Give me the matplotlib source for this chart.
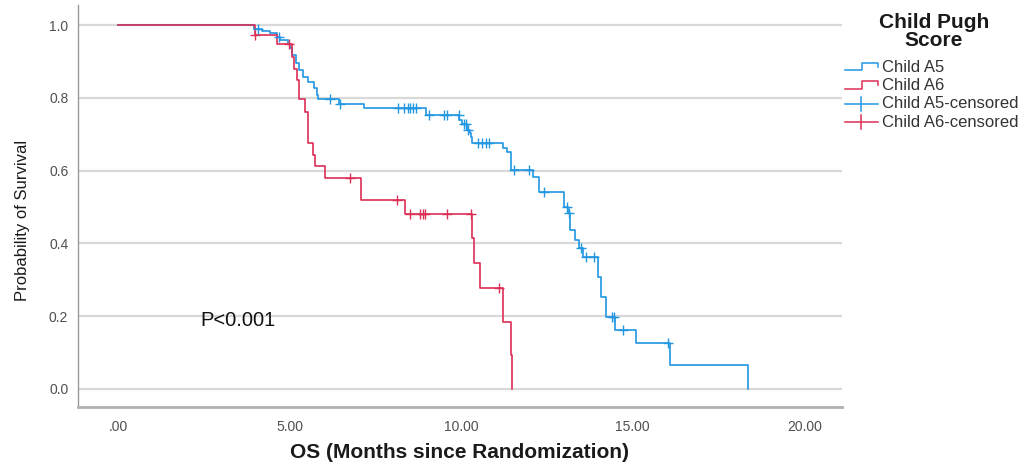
import matplotlib
matplotlib.use("Agg")
import matplotlib.pyplot as plt
from matplotlib.lines import Line2D

plt.rcParams['font.family'] = ['Liberation Sans', 'DejaVu Sans']

# ---- data ----
a5_times = [0.0, 3.97, 4.20, 4.44, 4.64, 4.73, 4.94, 5.02, 5.08, 5.17, 5.26, 5.40, 5.52,
            5.70, 5.81, 5.84, 6.43, 7.16, 8.97, 9.93, 10.02, 10.16, 10.25, 10.28, 10.31,
            11.21, 11.33, 11.45, 12.09, 12.27, 13.00, 13.11, 13.17, 13.32, 13.43, 13.55,
            13.99, 14.08, 14.22, 14.49, 15.10, 16.09, 18.37]
a5_surv = [1.0, 0.990, 0.984, 0.978, 0.967, 0.959, 0.948, 0.937, 0.918, 0.896, 0.876, 0.857, 0.843,
           0.827, 0.808, 0.797, 0.783, 0.772, 0.752, 0.739, 0.728, 0.712, 0.703, 0.692, 0.676,
           0.662, 0.651, 0.602, 0.582, 0.541, 0.500, 0.483, 0.437, 0.409, 0.387, 0.363,
           0.308, 0.253, 0.198, 0.162, 0.126, 0.066, 0.0]
a5_cens_t = [4.09, 4.70, 6.19, 6.48, 8.15, 8.32, 8.44, 8.50, 8.59, 8.67, 9.05, 9.49, 9.58,
             9.93, 10.08, 10.13, 10.19, 10.48, 10.60, 10.72, 10.81, 11.54, 11.97, 12.41,
             13.08, 13.14, 13.49, 13.64, 13.87, 14.40, 14.46, 14.72, 16.03]
a5_cens_s = [0.990, 0.967, 0.797, 0.783, 0.772, 0.772, 0.772, 0.772, 0.772, 0.772, 0.752, 0.752, 0.752,
             0.752, 0.728, 0.728, 0.712, 0.676, 0.676, 0.676, 0.676, 0.602, 0.602, 0.541,
             0.500, 0.483, 0.387, 0.363, 0.363, 0.198, 0.198, 0.162, 0.126]

a6_times = [0.0, 4.00, 4.64, 5.08, 5.14, 5.20, 5.26, 5.46, 5.52, 5.67, 5.75, 6.02, 7.07,
            8.35, 10.31, 10.37, 10.54, 11.21, 11.45, 11.48]
a6_surv = [1.0, 0.973, 0.948, 0.912, 0.880, 0.850, 0.797, 0.761, 0.676, 0.643, 0.613, 0.580, 0.519,
           0.481, 0.415, 0.346, 0.277, 0.184, 0.093, 0.0]
a6_cens_t = [4.00, 4.99, 6.75, 8.12, 8.50, 8.79, 8.88, 8.94, 9.58, 10.28, 11.10]
a6_cens_s = [0.973, 0.948, 0.580, 0.519, 0.481, 0.481, 0.481, 0.481, 0.481, 0.481, 0.277]

x_ticks = [0, 5, 10, 15, 20]
x_ticklabels = ['.00', '5.00', '10.00', '15.00', '20.00']
y_ticks = [0.0, 0.2, 0.4, 0.6, 0.8, 1.0]
y_ticklabels = ['0.0', '0.2', '0.4', '0.6', '0.8', '1.0']

legend_title = ['Child Pugh', 'Score']
legend_labels = ['Child A5', 'Child A6', 'Child A5-censored', 'Child A6-censored']

blue = '#2196e3'
red = '#dc2f55'

W, H = 1027, 465
fig = plt.figure(figsize=(W / 100, H / 100), dpi=100)
ax = fig.add_axes([78 / W, 1 - 407 / H, (842 - 78) / W, (407 - 5) / H])

for y in y_ticks:
    ax.axhline(y, color='#d9d9d9', lw=1.6, zorder=0)

ax.step(a5_times, a5_surv, where='post', color=blue, lw=1.2, zorder=3)
ax.step(a6_times, a6_surv, where='post', color=red, lw=1.2, zorder=3)
ax.plot(a5_cens_t, a5_cens_s, ls='none', marker='+', ms=7, mew=1.0, color=blue, zorder=4)
ax.plot(a6_cens_t, a6_cens_s, ls='none', marker='+', ms=7, mew=1.0, color=red, zorder=4)

ax.set_xlim(-1.17, 21.1)
ax.set_ylim(-0.05, 1.055)
ax.set_xticks(x_ticks)
ax.set_xticklabels(x_ticklabels)
ax.set_yticks(y_ticks)
ax.set_yticklabels(y_ticklabels)
ax.tick_params(length=0, labelsize=10, labelcolor='#505050')
ax.tick_params(axis='x', pad=9)
ax.tick_params(axis='y', pad=7)
for s in ['top', 'right']:
    ax.spines[s].set_visible(False)
ax.spines['left'].set_color('#9a9a9a')
ax.spines['left'].set_linewidth(1.0)
ax.spines['bottom'].set_color('#b0b0b0')
ax.spines['bottom'].set_linewidth(2.0)

ax.set_xlabel('OS (Months since Randomization)', fontsize=15, fontweight='bold',
              color='#1a1a1a')
ax.xaxis.set_label_coords(0.5, (407 - 452) / 402)
ax.xaxis.label.set_va('center')
ax.set_ylabel('Probability of Survival', fontsize=12, color='#1a1a1a')
ax.yaxis.set_label_coords((22 - 78) / 764, (407 - 220) / 402)
ax.yaxis.label.set_va('center')

ax.text(2.39, 0.187, 'P<0.001', fontsize=14.5, color='#111111', va='center', ha='left')

# ---- legend (drawn in figure pixel coordinates) ----
def fx(px):
    return px / W


def fy(py):
    return 1 - py / H


fig.text(fx(934), fy(22), legend_title[0], fontsize=15, fontweight='bold',
         color='#1a1a1a', ha='center', va='center')
fig.text(fx(934), fy(40), legend_title[1], fontsize=15, fontweight='bold',
         color='#1a1a1a', ha='center', va='center')

colors = [blue, red, blue, red]
for i, (lab, col) in enumerate(zip(legend_labels, colors)):
    yc = 67 + 18.4 * i
    if i < 2:
        xs = [845, 862, 862, 878, 878]
        ys = [yc + 3.5, yc + 3.5, yc - 4, yc - 4, yc]
        fig.add_artist(Line2D([fx(v) for v in xs], [fy(v) for v in ys],
                              color=col, lw=1.1, transform=fig.transFigure))
    else:
        fig.add_artist(Line2D([fx(845), fx(878)], [fy(yc), fy(yc)],
                              color=col, lw=1.1, transform=fig.transFigure))
        fig.add_artist(Line2D([fx(861), fx(861)], [fy(yc - 7), fy(yc + 7)],
                              color=col, lw=1.1, transform=fig.transFigure))
    fig.text(fx(882), fy(yc), lab, fontsize=12, color='#333333',
             ha='left', va='center')

fig.savefig('out.png', dpi=100)
